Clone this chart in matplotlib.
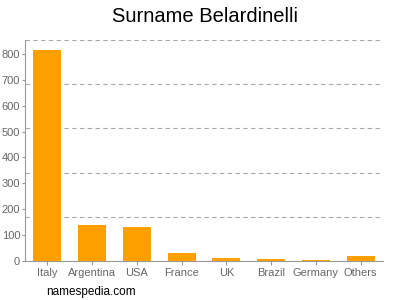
import numpy as np
from matplotlib import pyplot as plt

plt.rcParams['font.family'] = ['Liberation Sans', 'DejaVu Sans']

countries = ["Italy", "Argentina", "USA", "France", "UK", "Brazil", "Germany", "Others"]
counts = [814, 139, 131, 31, 12, 8, 5, 19]
y_ticks = [0, 100, 200, 300, 400, 500, 600, 700, 800]
y_top = 854

fig = plt.figure(figsize=(4, 3), dpi=100)
ax = fig.add_axes([25/400, 1-261/300, 358/400, 221/300])

x = np.arange(len(countries))
ax.bar(x, counts, width=0.63, color="#ffa000", zorder=3)

ax.set_xlim(-0.5, len(countries)-0.5)
ax.set_ylim(0, y_top)
ax.set_yticks(y_ticks)
ax.set_xticks(x)
ax.set_xticklabels(countries)

# grid lines are at fifths of the axis height, not at the ticks
for k in range(1, 6):
    ax.axhline(y_top*k/5, color="#aaaaaa", linestyle=(0, (4, 3)), linewidth=0.8, zorder=1)

for s in ["top", "right"]:
    ax.spines[s].set_visible(False)
ax.spines["left"].set_color("#999999")
ax.spines["bottom"].set_color("#999999")
ax.tick_params(axis="both", colors="#999999", labelcolor="#666666", labelsize=8, length=3, width=0.8)
ax.tick_params(axis="y", length=2, pad=1.5)
ax.tick_params(axis="x", pad=2)

fig.text(205/400, 1-17/300, "Surname Belardinelli", ha="center", va="center", fontsize=14.5, color="#000000")
fig.text(46/400, 1-292/300, "namespedia.com", ha="left", va="center", fontsize=8.5, color="#000000")

fig.savefig("out.png", dpi=100)
